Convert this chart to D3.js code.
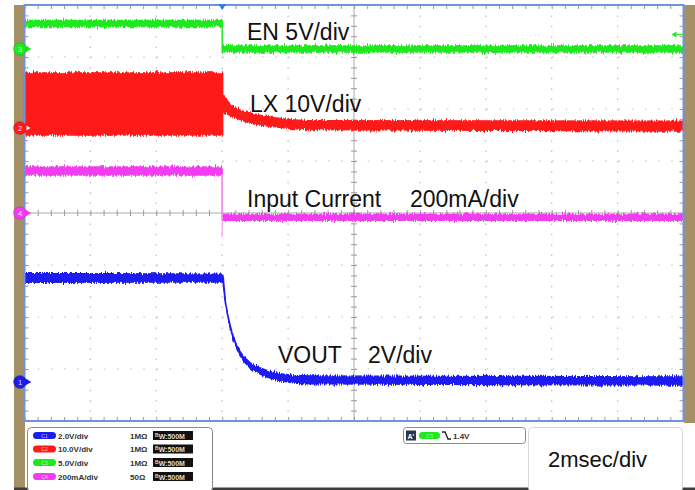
<!DOCTYPE html>
<html>
<head>
<meta charset="utf-8">
<script src="https://cdn.jsdelivr.net/npm/d3@7"></script>
<style>
  body { margin: 0; background: #fff; }
  svg { display: block; font-family: "Liberation Sans", Arial, sans-serif; }
</style>
</head>
<body>
<div id="chart"></div>
<script>
// Time axis (ms), 2 ms/div, trigger at 0
const timeTicks = [-6, -4, -2, 0, 2, 4, 6, 8, 10, 12, 14];
const divTicks = [-4, -3, -2, -1, 0, 1, 2, 3, 4];

// EN (C3) in V, envelope lo/hi
const enTime = [-6, 0, 0, 14];
const enLo = [2.15, 2.15, -0.3, -0.3];
const enHi = [2.75, 2.75, 0.3, 0.3];

// LX (C2) in V: switching band before trigger, decay after
const lxBandTime = [-6, 0.015];
const lxBandLo = [-1.35, -1.35];
const lxBandHi = [10.6, 10.6];
const lxTime = [0.015, 0.33, 0.84, 1.65, 2.67, 14];
const lxLo = [3.1, 2.17, 0.96, 0.19, -0.3, -0.6];
const lxHi = [6.35, 4.1, 2.88, 1.92, 1.4, 1.3];

// Input current (C4) in mA
const inTime = [-6, 0, 0, 14];
const inLo = [146, 146, -28, -28];
const inHi = [177, 177, -6, -6];
const spikeTime = [0, 0];
const spikeVal = [150, -92];

// VOUT (C1) in V
const voTime = [-6, 0.015, 0.085, 0.185, 0.34, 0.54, 0.84, 1.25, 1.86, 2.67, 14];
const voLo = [3.83, 3.85, 3.17, 2.4, 1.62, 1.02, 0.55, 0.25, 0.03, -0.07, -0.12];
const voHi = [4.17, 4.15, 3.27, 2.5, 1.74, 1.18, 0.75, 0.49, 0.3, 0.23, 0.19];

// Channel settings
const channels = [
  { id: "1", name: "C1", scale: "2.0V/div", perDiv: 2, offset: -3.25, color: "#1c1cf0", imp: "1MΩ" },
  { id: "2", name: "C2", scale: "10.0V/div", perDiv: 10, offset: 1.635, color: "#ff1a1a", imp: "1MΩ" },
  { id: "3", name: "C3", scale: "5.0V/div", perDiv: 5, offset: 3.154, color: "#1ee81e", imp: "1MΩ" },
  { id: "4", name: "C4", scale: "200mA/div", perDiv: 200, offset: 0, color: "#f23cf0", imp: "50Ω" }
];
const markerOrder = ["3", "2", "4", "1"];

const width = 695, height = 490;
const plot = { left: 24.5, right: 683.5, top: 5, bottom: 421 };

const svg = d3.select("#chart").append("svg")
  .attr("width", width).attr("height", height);

// Vertical-only noise texture for trace edges
const defs = svg.append("defs");
const fuzz = defs.append("filter").attr("id", "fuzz")
  .attr("x", "-1%").attr("y", "-30%").attr("width", "102%").attr("height", "160%")
  .attr("color-interpolation-filters", "sRGB");
fuzz.append("feTurbulence").attr("type", "fractalNoise")
  .attr("baseFrequency", "0.9 0.05").attr("numOctaves", 2).attr("seed", 4).attr("result", "n");
fuzz.append("feColorMatrix").attr("in", "n").attr("type", "matrix")
  .attr("values", "0 0 0 0 0.5  0 1 0 0 0  0 0 0 0 0  0 0 0 0 1").attr("result", "m");
fuzz.append("feDisplacementMap").attr("in", "SourceGraphic").attr("in2", "m")
  .attr("scale", 6).attr("xChannelSelector", "R").attr("yChannelSelector", "G");

const x = d3.scaleLinear().domain([-6, 14]).range([plot.left, plot.right]);
const yDiv = d3.scaleLinear().domain([-4, 4]).range([plot.bottom, plot.top]);
const chan = (id) => channels.find((c) => c.id === id);
const yOf = (id, v) => { const c = chan(id); return yDiv(c.offset + v / c.perDiv); };

// Side strips
svg.append("rect").attr("x", 14).attr("y", 5).attr("width", 11).attr("height", 485).attr("fill", "#a58f64");
svg.append("rect").attr("x", 684).attr("y", 5).attr("width", 11).attr("height", 418).attr("fill", "#a58f64");

// Plot background
svg.append("rect")
  .attr("x", plot.left).attr("y", plot.top)
  .attr("width", plot.right - plot.left).attr("height", plot.bottom - plot.top)
  .attr("fill", "#fff");

// Dotted grid
const grid = svg.append("g").attr("stroke", "#bdbdbd").attr("stroke-width", 1.2);
grid.selectAll(".vg").data(timeTicks.slice(1, -1).filter((t) => t !== 4)).enter()
  .append("line")
  .attr("x1", (d) => x(d)).attr("x2", (d) => x(d))
  .attr("y1", plot.top).attr("y2", plot.bottom)
  .attr("stroke-dasharray", "1.5,8.9");
grid.selectAll(".hg").data(divTicks.slice(1, -1).filter((d) => d !== 0)).enter()
  .append("line")
  .attr("x1", plot.left).attr("x2", plot.right)
  .attr("y1", (d) => yDiv(d)).attr("y2", (d) => yDiv(d))
  .attr("stroke-dasharray", "1.5,11.7");

// Minor tick positions (5 per div)
const minorX = d3.range(-6, 14.001, 0.4);
const minorY = d3.range(-4, 4.001, 0.2);

// Centre cross
svg.append("line").attr("x1", plot.left).attr("x2", plot.right)
  .attr("y1", yDiv(0)).attr("y2", yDiv(0)).attr("stroke", "#aaa");
svg.append("line").attr("x1", x(4)).attr("x2", x(4))
  .attr("y1", plot.top).attr("y2", plot.bottom).attr("stroke", "#aaa");

function tickAxis(axis, tx, ty) {
  const g = svg.append("g").attr("transform", `translate(${tx},${ty})`).call(axis);
  g.select(".domain").remove();
  g.selectAll(".tick line").attr("stroke", "#9a9a9a");
  g.selectAll(".tick text").remove();
  return g;
}
tickAxis(d3.axisBottom(x).tickValues(minorX).tickSize(4).tickFormat(""), 0, plot.top);
tickAxis(d3.axisTop(x).tickValues(minorX).tickSize(4).tickFormat(""), 0, plot.bottom);
tickAxis(d3.axisRight(yDiv).tickValues(minorY).tickSize(4).tickFormat(""), plot.left, 0);
tickAxis(d3.axisLeft(yDiv).tickValues(minorY).tickSize(4).tickFormat(""), plot.right, 0);
tickAxis(d3.axisBottom(x).tickValues(minorX).tickSize(6).tickFormat(""), 0, yDiv(0) - 3);
tickAxis(d3.axisRight(yDiv).tickValues(minorY).tickSize(6).tickFormat(""), x(4) - 3, 0);

// Traces
const traces = svg.append("g").attr("filter", "url(#fuzz)");
function trace(id, times, lo, hi, curve) {
  const pts = times.map((t, i) => ({ t, lo: lo[i], hi: hi[i] }));
  const area = d3.area()
    .curve(curve || d3.curveLinear)
    .x((d) => x(d.t))
    .y0((d) => yOf(id, d.lo))
    .y1((d) => yOf(id, d.hi));
  traces.append("path").datum(pts)
    .attr("d", area)
    .attr("fill", chan(id).color)
    .attr("stroke", chan(id).color)
    .attr("stroke-width", 1.4)
    .attr("stroke-linejoin", "round");
}
trace("3", enTime, enLo, enHi);
trace("2", lxBandTime, lxBandLo, lxBandHi);
trace("2", lxTime, lxLo, lxHi, d3.curveMonotoneX);
trace("4", inTime, inLo, inHi);
svg.append("path")
  .datum(spikeTime.map((t, i) => ({ t, v: spikeVal[i] })))
  .attr("d", d3.line().x((d) => x(d.t)).y((d) => yOf("4", d.v)))
  .attr("stroke", "#f7a0f2").attr("stroke-width", 1.2).attr("fill", "none");
trace("1", voTime, voLo, voHi, d3.curveMonotoneX);

// Border
svg.append("rect")
  .attr("x", plot.left).attr("y", plot.top)
  .attr("width", plot.right - plot.left).attr("height", plot.bottom - plot.top)
  .attr("fill", "none").attr("stroke", "#6f93dc").attr("stroke-width", 2);

// Ground markers
markerOrder.forEach((id) => {
  const c = chan(id);
  const yy = yOf(id, 0);
  const g = svg.append("g").attr("transform", `translate(20,${yy})`);
  g.append("path").attr("d", "M5,-3.5 L11.5,0 L5,3.5 Z")
    .attr("fill", id === "2" ? "#fff" : c.color)
    .attr("stroke", c.color).attr("stroke-width", id === "2" ? 1 : 0);
  g.append("circle").attr("r", 6.3).attr("fill", c.color)
    .attr("stroke", d3.color(c.color).darker(0.8)).attr("stroke-width", 0.6);
  g.append("text").attr("y", 2.6).attr("text-anchor", "middle")
    .attr("font-size", 7.5).attr("fill", "#fff").attr("fill-opacity", 0.85).text(id);
});

// Trigger position marker (top) and trigger level marker (right)
svg.append("path")
  .attr("d", `M${x(0) - 4},${plot.top - 1} L${x(0) + 4},${plot.top - 1} L${x(0)},${plot.top + 5} Z`)
  .attr("fill", "#2f7fe0");
const trigY = yOf("3", 1.4);
svg.append("path")
  .attr("d", `M${plot.right - 12},${trigY} L${plot.right - 7},${trigY - 3} L${plot.right - 7},${trigY + 3} Z`)
  .attr("fill", "#1ee81e");
svg.append("line").attr("x1", plot.right - 7).attr("x2", plot.right)
  .attr("y1", trigY).attr("y2", trigY).attr("stroke", "#1ee81e").attr("stroke-width", 1);

// Trace labels
const labels = [
  { text: "EN 5V/div", x: 247, y: 40 },
  { text: "LX 10V/div", x: 250, y: 112 },
  { text: "Input Current", x: 247, y: 207 },
  { text: "200mA/div", x: 410, y: 207 },
  { text: "VOUT", x: 278, y: 363 },
  { text: "2V/div", x: 368, y: 363 }
];
svg.selectAll(".lbl").data(labels).enter().append("text")
  .attr("x", (d) => d.x).attr("y", (d) => d.y)
  .attr("font-size", 23).attr("fill", "#111").text((d) => d.text);

// Bottom info panel
svg.append("rect").attr("x", 14).attr("y", 487.5).attr("width", 681).attr("height", 2.5).attr("fill", "#3c3c3c");

const info = svg.append("g");
info.append("rect").attr("x", 27.5).attr("y", 427.5).attr("width", 185).attr("height", 64)
  .attr("rx", 4).attr("fill", "#fff").attr("stroke", "#8a8a8a");
const rowY = [435.5, 449, 462.5, 476.5];
channels.forEach((c, i) => {
  const g = info.append("g").attr("transform", `translate(0,${rowY[i]})`);
  g.append("rect").attr("x", 33).attr("y", -3.5).attr("width", 23).attr("height", 7)
    .attr("rx", 3.5).attr("fill", c.color);
  g.append("text").attr("x", 44.5).attr("y", 2).attr("text-anchor", "middle")
    .attr("font-size", 5).attr("fill", "#fff").attr("fill-opacity", 0.7).text(c.name);
  g.append("text").attr("x", 58).attr("y", 3).attr("font-size", 8).attr("font-weight", "bold")
    .attr("fill", "#333").text(c.scale);
  g.append("text").attr("x", 130).attr("y", 3).attr("font-size", 8).attr("font-weight", "bold")
    .attr("fill", "#333").text(c.imp);
  g.append("rect").attr("x", 153).attr("y", -4.5).attr("width", 40).attr("height", 9).attr("fill", "#111");
  const t = g.append("text").attr("x", 155).attr("y", 3).attr("font-size", 7).attr("font-weight", "bold")
    .attr("fill", "#ddd");
  t.append("tspan").attr("font-size", 5).attr("dy", -2).text("B");
  t.append("tspan").attr("dy", 2).text("W:500M");
});

// Trigger box
info.append("rect").attr("x", 403.5).attr("y", 427.5).attr("width", 122).attr("height", 16)
  .attr("rx", 3).attr("fill", "#fff").attr("stroke", "#8a8a8a");
info.append("rect").attr("x", 406).attr("y", 430.5).attr("width", 10).attr("height", 10).attr("fill", "#2a3550");
info.append("text").attr("x", 407.5).attr("y", 438.5).attr("font-size", 7).attr("font-weight", "bold")
  .attr("fill", "#fff").text("A'");
info.append("rect").attr("x", 419).attr("y", 432).attr("width", 21).attr("height", 7)
  .attr("rx", 3.5).attr("fill", "#1ee81e");
info.append("text").attr("x", 429.5).attr("y", 437.5).attr("text-anchor", "middle")
  .attr("font-size", 5).attr("fill", "#fff").attr("fill-opacity", 0.7).text("C3");
info.append("path").attr("d", "M442,432 L445,432 L448,439 L451,439")
  .attr("fill", "none").attr("stroke", "#222").attr("stroke-width", 1.4);
info.append("text").attr("x", 453).attr("y", 439).attr("font-size", 8).attr("font-weight", "bold")
  .attr("fill", "#333").text("1.4V");

// Timebase box
info.append("rect").attr("x", 528.5).attr("y", 427.5).attr("width", 154).attr("height", 64)
  .attr("rx", 4).attr("fill", "#fff").attr("stroke", "#d8d8d8");
info.append("text").attr("x", 548).attr("y", 467).attr("font-size", 22).attr("fill", "#111").text("2msec/div");
</script>
</body>
</html>
